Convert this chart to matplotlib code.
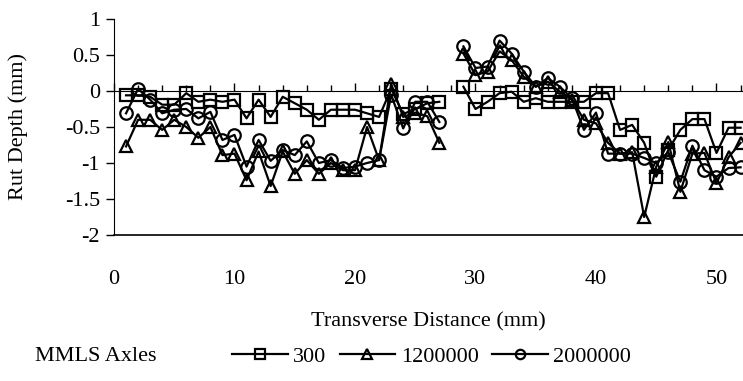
import numpy as np
import matplotlib
matplotlib.use("Agg")
import matplotlib.pyplot as plt
from matplotlib.ticker import MultipleLocator, FuncFormatter

plt.rcParams["font.family"] = ["Liberation Serif", "DejaVu Serif"]
plt.rcParams["axes.unicode_minus"] = False

nan = np.nan
x = np.arange(1, 53)

# MMLS 300 axles
axles_300 = [-0.06, -0.06, -0.08, -0.19, -0.19, -0.03, -0.15, -0.12, -0.15, -0.12,
             -0.38, -0.12, -0.36, -0.08, -0.17, -0.26, -0.40, -0.26, -0.26, -0.26,
             -0.31, -0.36, 0.03, -0.32, -0.25, -0.17, -0.15, nan, 0.06, -0.25,
             -0.15, -0.03, -0.01, -0.15, -0.10, -0.15, -0.15, -0.15, -0.15, -0.03,
             -0.03, -0.54, -0.47, -0.72, -1.19, -0.82, -0.54, -0.39, -0.39, -0.86,
             -0.51, -0.51]
# MMLS 1200000 axles
axles_1200000 = [-0.77, -0.40, -0.40, -0.54, -0.40, -0.50, -0.65, -0.50, -0.89, -0.87,
                 -1.24, -0.84, -1.32, -0.84, -1.15, -0.96, -1.15, -1.00, -1.10, -1.10,
                 -0.50, -0.96, 0.10, -0.36, -0.30, -0.35, -0.72, nan, 0.52, 0.22,
                 0.27, 0.55, 0.43, 0.20, 0.06, 0.13, -0.01, -0.12, -0.40, -0.45,
                 -0.72, -0.87, -0.85, -1.75, -1.05, -0.71, -1.40, -0.87, -0.86, -1.28,
                 -0.92, -0.72]
# MMLS 2000000 axles
axles_2000000 = [-0.31, 0.03, -0.12, -0.31, -0.26, -0.25, -0.38, -0.29, -0.68, -0.61,
                 -1.05, -0.68, -0.97, -0.82, -0.89, -0.70, -1.00, -0.96, -1.07, -1.05,
                 -1.00, -0.96, -0.05, -0.52, -0.15, -0.15, -0.43, nan, 0.62, 0.32,
                 0.34, 0.70, 0.52, 0.27, 0.06, 0.18, 0.06, -0.10, -0.54, -0.30,
                 -0.87, -0.87, -0.87, -0.93, -1.00, -0.85, -1.26, -0.76, -1.10, -1.19,
                 -1.07, -1.06]

series = [("300", axles_300, "s"),
          ("1200000", axles_1200000, "^"),
          ("2000000", axles_2000000, "o")]

FS = 16

fig = plt.figure(figsize=(7.43, 3.81), dpi=100)
ax = fig.add_axes([114 / 743, 1 - 235 / 381, 1 - 114 / 743, 216 / 381])

for name, vals, mk in series:
    ax.plot(x, vals, marker=mk, color="black", linewidth=1.6, markersize=9,
            markerfacecolor="none", markeredgecolor="black", markeredgewidth=1.6,
            label=name)

ax.set_xlim(0, 52.2)
ax.set_ylim(-2, 1)
ax.yaxis.set_major_locator(MultipleLocator(0.5))
ax.yaxis.set_major_formatter(FuncFormatter(lambda v, p: f"{v:g}"))
ax.xaxis.set_major_locator(MultipleLocator(10))
ax.xaxis.set_minor_locator(MultipleLocator(2))

# x axis crosses at y = 0, labels sit low
ax.spines["bottom"].set_position(("data", 0))
ax.spines["top"].set_visible(False)
ax.spines["right"].set_visible(False)
ax.axhline(-2, color="black", linewidth=1.2, clip_on=False)
ax.tick_params(axis="x", which="major", direction="in", length=6, width=1, pad=129,
               labelsize=FS)
ax.tick_params(axis="x", which="minor", direction="in", length=4, width=1)
ax.tick_params(axis="y", direction="out", length=6, width=1, labelsize=FS, pad=4)

ax.set_xlabel("Transverse Distance (mm)", fontsize=FS, va="center")
ax.xaxis.set_label_coords(0.5, -0.403)
ax.set_ylabel("Rut Depth (mm)", fontsize=FS, va="center")
ax.yaxis.set_label_coords(-0.153, 0.5)

fig.text(35 / 743, 0.063, "MMLS Axles", fontsize=FS, ha="left", va="center")
fig.legend(loc="center left", bbox_to_anchor=(232 / 743, 0.063), ncol=3,
           frameon=False, fontsize=FS, handlelength=2.5, handletextpad=0.25,
           columnspacing=0.6, borderpad=0, borderaxespad=0, markerscale=0.75)

fig.savefig("out.png", dpi=100)
